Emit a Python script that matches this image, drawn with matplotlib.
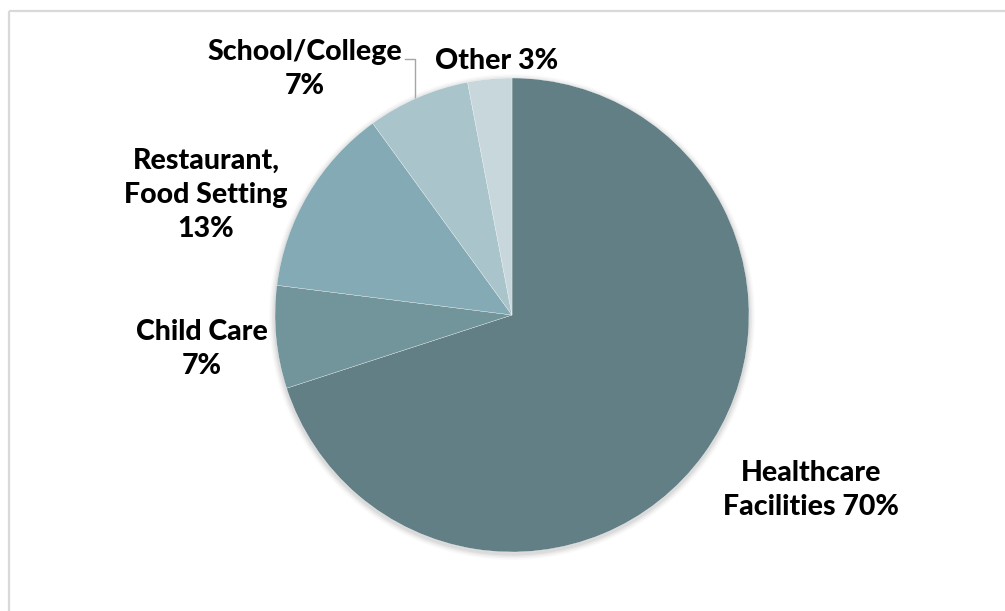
import matplotlib.pyplot as plt
from matplotlib.patches import Circle

# data
categories = ["Healthcare\nFacilities 70%", "Child Care\n7%", "Restaurant,\nFood Setting\n13%",
              "School/College\n7%", "Other 3%"]
shares = [70, 7, 13, 7, 3]
slice_colors = ["#627f86", "#72959c", "#84abb5", "#a9c4cb", "#c8d7dc"]

plt.rcParams["font.family"] = ["Lato", "DejaVu Sans"]

W, H = 1005, 611
fig = plt.figure(figsize=(W / 100, H / 100), dpi=100)
ax = fig.add_axes([0, 0, 1, 1])

cx, cy, r = 512, H - 315, 237

# soft shadow under the pie
for i, a in enumerate([0.05, 0.04, 0.03, 0.02]):
    ax.add_patch(Circle((cx, cy - 2), r + 1.5 + i * 1.5, color="black", alpha=a, lw=0, zorder=1))

wedges, _ = ax.pie(shares, colors=slice_colors, startangle=90, counterclock=False,
                   center=(cx, cy), radius=r, frame=True,
                   wedgeprops=dict(edgecolor="white", linewidth=0.2))
for w in wedges:
    w.set_zorder(2)
ax.set_xlim(0, W)
ax.set_ylim(0, H)
ax.set_aspect("equal")
ax.axis("off")

# label positions (pixel centres, top-down y)
label_pos = [(811, 490), (202, 349), (206, 195), (305, 69), (497, 61)]
for lab, (x, y) in zip(categories, label_pos):
    ax.text(x, H - y, lab, ha="center", va="center", fontsize=20.5, fontweight="black",
            linespacing=1.38, color="black", zorder=3)

# leader line for School/College
ax.plot([405, 415, 415], [H - 59, H - 59, H - 100], color="#a6a6a6", lw=1.0, zorder=1.5)

# chart area border (top and left only visible)
ax.plot([9, W + 5], [H - 11, H - 11], color="#d9d9d9", lw=1.6, solid_capstyle="butt")
ax.plot([9, 9], [H - 11, -5], color="#d9d9d9", lw=1.6, solid_capstyle="butt")

fig.savefig("out.png", dpi=100)
